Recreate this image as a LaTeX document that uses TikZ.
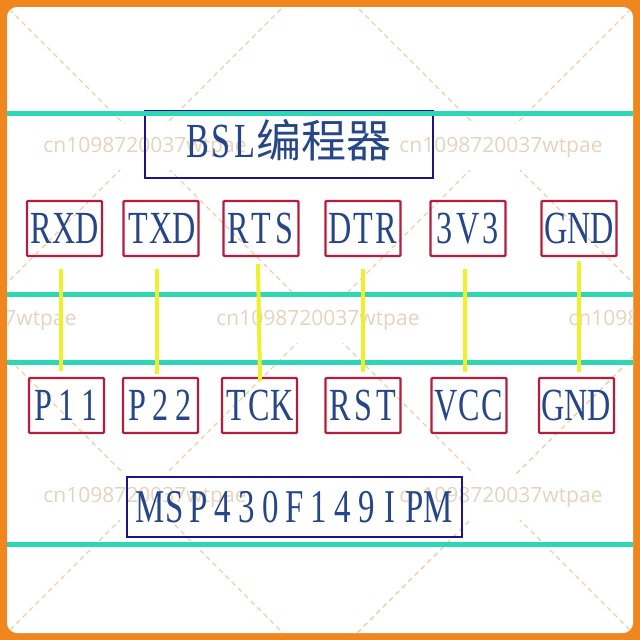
\documentclass[tikz,border=0pt]{standalone}
\usepackage{fontspec}
\newfontfamily\labfont[FakeStretch=0.7]{Liberation Serif}
\newfontfamily\cjkfont{Noto Sans CJK SC}
\newfontfamily\wmfont{Open Sans}
\definecolor{frameor}{RGB}{240,135,30}
\definecolor{railteal}{RGB}{45,215,180}
\definecolor{wireyel}{RGB}{238,240,45}
\definecolor{boxred}{RGB}{180,30,60}
\definecolor{chipnavy}{RGB}{30,20,135}
\definecolor{txtblue}{RGB}{38,70,135}
\definecolor{wmtxt}{RGB}{228,212,190}
\definecolor{wmdash}{RGB}{240,205,170}
\ExplSyntaxOn
\NewDocumentCommand\cellrow{mm}{\tl_map_inline:nn{#2}{\makebox[#1]{##1}}}
\ExplSyntaxOff
\begin{document}
\begin{tikzpicture}[x=1pt,y=-1pt,
  pinbox/.style={draw=boxred, line width=2.2pt, rounded corners=1pt, minimum width=75pt, minimum height=55pt, inner sep=0pt, text=txtblue, font=\labfont\fontsize{46}{46}\selectfont},
  chipbox/.style={draw=chipnavy, line width=2.2pt, inner sep=0pt, text=txtblue},
  rail/.style={railteal, line width=5pt},
  wire/.style={wireyel, line width=4pt},
  dashline/.style={wmdash, line width=1.4pt, dash pattern=on 5pt off 4pt},
  wm/.style={text=wmtxt, fill=white, font=\wmfont\fontsize{21}{21}\selectfont, inner sep=0pt, minimum width=206pt, minimum height=46pt}]
\useasboundingbox (0,0) rectangle (640,640);
% frame
\fill[frameor] (0,0) rectangle (640,640);
\fill[white, rounded corners=10pt] (7,7) rectangle (633,633);
% watermark
\begin{scope}
\clip[rounded corners=10pt] (7,7) rectangle (633,633);
\draw[dashline] (-10,-10) -- (650,650);
\draw[dashline] (340,-10) -- (660,310);
\draw[dashline] (-10,340) -- (310,660);
\draw[dashline] (650,-10) -- (-10,650);
\draw[dashline] (300,-10) -- (-10,300);
\draw[dashline] (660,330) -- (330,660);
\node[wm] (w1) at (145,147) {cn1098720037wtpae};
\node[wm] (w2) at (501,147) {cn1098720037wtpae};
\node[wm] (w3) at (-25,320) {cn1098720037wtpae};
\node[wm] (w4) at (318,320) {cn1098720037wtpae};
\node[wm] (w5) at (670,320) {cn1098720037wtpae};
\node[wm] (w6) at (145,497) {cn1098720037wtpae};
\node[wm] (w7) at (501,497) {cn1098720037wtpae};
\end{scope}
% chip boxes
\node[chipbox, minimum width=288pt, minimum height=67pt, text height=32pt, text depth=7pt] (bsl) at (289,144.5)
  {\labfont\fontsize{49}{49}\selectfont\cellrow{23.5pt}{BSL}\cjkfont\fontsize{45}{46}\selectfont 编程器};
\node[chipbox, minimum width=335pt, minimum height=60pt, font=\labfont\fontsize{47}{48}\selectfont] (mcu) at (294.5,507)
  {\cellrow{24pt}{MSP430F149IPM}};
% pin boxes top
\node[pinbox] (rxd) at (64.5,228.5) {\cellrow{23pt}{RXD}};
\node[pinbox] (txd) at (161,228.5) {\cellrow{23pt}{TXD}};
\node[pinbox] (rts) at (261,228.5) {\cellrow{23pt}{RTS}};
\node[pinbox] (dtr) at (363,228.5) {\cellrow{23pt}{DTR}};
\node[pinbox] (v33) at (468,228.5) {\cellrow{23pt}{3V3}};
\node[pinbox] (gnda) at (579,228.5) {\cellrow{23pt}{GND}};
% pin boxes bottom
\node[pinbox] (p11) at (66.5,405.5) {\cellrow{23pt}{P11}};
\node[pinbox] (p22) at (160.5,405.5) {\cellrow{23pt}{P22}};
\node[pinbox] (tck) at (259.5,405.5) {\cellrow{23pt}{TCK}};
\node[pinbox] (rst) at (363,405.5) {\cellrow{23pt}{RST}};
\node[pinbox] (vcc) at (469,405.5) {\cellrow{23pt}{VCC}};
\node[pinbox] (gndb) at (576.5,405.5) {\cellrow{23pt}{GND}};
% rails
\draw[rail] (7,113) -- (633,113);
\draw[rail] (7,294.5) -- (633,294.5);
\draw[rail] (7,362.5) -- (633,362.5);
\draw[rail] (7,544) -- (633,544);
% wires
\draw[wire] ([xshift=-3.5pt,yshift=-12pt]rxd.south) -- ([xshift=-5.5pt,yshift=6pt]p11.north);
\draw[wire] ([xshift=-4pt,yshift=-12pt]txd.south) -- ([xshift=-3.5pt,yshift=3pt]p22.north);
\draw[wire] ([xshift=-3pt,yshift=-7pt]rts.south) -- ([xshift=0.5pt,yshift=-4pt]tck.north);
\draw[wire] ([yshift=-12pt]dtr.south) -- ([yshift=5pt]rst.north);
\draw[wire] ([xshift=-3pt,yshift=-12pt]v33.south) -- ([xshift=-4pt,yshift=5pt]vcc.north);
\draw[wire] ([yshift=-4pt]gnda.south) -- ([xshift=2.5pt,yshift=5pt]gndb.north);
\end{tikzpicture}
\end{document}
